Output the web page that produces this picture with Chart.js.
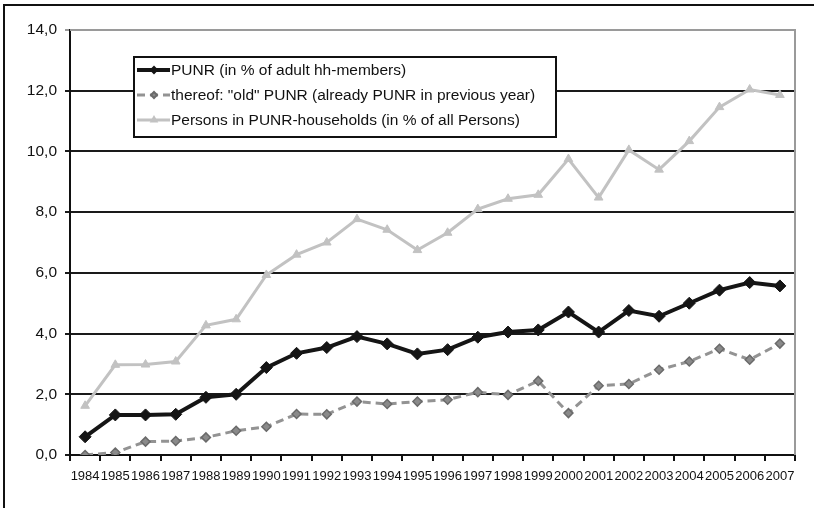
<!DOCTYPE html>
<html>
<head>
<meta charset="utf-8">
<script src="https://cdn.jsdelivr.net/npm/chart.js@4/dist/chart.umd.min.js"></script>
<style>
  html, body { margin: 0; padding: 0; background: #fff; }
  #wrap { width: 814px; height: 508px; position: relative; }
</style>
</head>
<body>
<div id="wrap"><canvas id="chart" width="814" height="508"></canvas></div>
<script>
// data
const years = ['1984','1985','1986','1987','1988','1989','1990','1991','1992','1993','1994','1995',
  '1996','1997','1998','1999','2000','2001','2002','2003','2004','2005','2006','2007'];
const punr = [0.6, 1.32, 1.32, 1.34, 1.9, 2.0, 2.88, 3.35, 3.54, 3.9, 3.66, 3.33,
  3.47, 3.88, 4.05, 4.12, 4.71, 4.05, 4.76, 4.57, 5.0, 5.43, 5.68, 5.57];
const oldPunr = [0.0, 0.08, 0.44, 0.46, 0.58, 0.8, 0.93, 1.35, 1.34, 1.76, 1.68, 1.76,
  1.82, 2.07, 1.98, 2.44, 1.38, 2.28, 2.34, 2.81, 3.08, 3.5, 3.14, 3.67];
const persons = [1.62, 2.97, 2.98, 3.08, 4.27, 4.47, 5.93, 6.6, 7.0, 7.77, 7.42, 6.75,
  7.32, 8.1, 8.44, 8.57, 9.75, 8.48, 10.05, 9.4, 10.34, 11.46, 12.04, 11.86];
const seriesNames = [
  'PUNR (in % of adult hh-members)',
  'thereof: "old" PUNR (already PUNR in previous year)',
  'Persons in PUNR-households (in % of all Persons)'
];

const FONT = 'Arial, "Liberation Sans", sans-serif';

// frame, plot border and the boxed legend inside the plot
const framePlugin = {
  id: 'framePlugin',
  beforeDraw(chart) {
    const c = chart.ctx;
    c.save();
    c.fillStyle = '#fff';
    c.fillRect(0, 0, chart.width, chart.height);
    c.restore();
  },
  afterDraw(chart) {
    const c = chart.ctx;
    const a = chart.chartArea;
    c.save();
    // outer frame (only top and left visible)
    c.strokeStyle = '#111';
    c.lineWidth = 2;
    c.beginPath();
    c.moveTo(4, chart.height + 2);
    c.lineTo(4, 5);
    c.lineTo(chart.width + 2, 5);
    c.stroke();
    // grey plot border top/right
    c.strokeStyle = '#9a9a9a';
    c.lineWidth = 2;
    c.beginPath();
    c.moveTo(a.left, a.top);
    c.lineTo(a.right, a.top);
    c.lineTo(a.right, a.bottom);
    c.stroke();

    // legend box
    const bx = 134, by = 57, bw = 422, bh = 80;
    c.fillStyle = '#fff';
    c.fillRect(bx, by, bw, bh);
    c.strokeStyle = '#111';
    c.lineWidth = 2;
    c.strokeRect(bx, by, bw, bh);
    chart.data.datasets.forEach((ds, i) => {
      const y = 70 + i * 25;
      c.save();
      c.strokeStyle = ds.borderColor;
      c.lineWidth = ds.borderWidth;
      c.setLineDash(ds.borderDash || []);
      c.beginPath();
      c.moveTo(137, y);
      c.lineTo(170, y);
      c.stroke();
      c.restore();
      c.save();
      c.fillStyle = ds.pointBackgroundColor;
      c.strokeStyle = ds.pointBorderColor;
      Chart.helpers.drawPoint(c, {
        pointStyle: ds.pointStyle, radius: 3, rotation: 0, borderWidth: 1
      }, 154, y);
      c.restore();
      c.fillStyle = '#111';
      c.font = '15.5px ' + FONT;
      c.textBaseline = 'middle';
      c.textAlign = 'left';
      c.fillText(ds.label, 171, y + 1);
    });
    c.restore();
  }
};

new Chart(document.getElementById('chart'), {
  type: 'line',
  data: {
    labels: years,
    datasets: [
      {
        label: seriesNames[0],
        data: punr,
        borderColor: '#151515',
        borderWidth: 4,
        pointStyle: 'rectRot',
        pointRadius: 6,
        pointBackgroundColor: '#151515',
        pointBorderColor: '#151515',
        pointBorderWidth: 1
      },
      {
        label: seriesNames[1],
        data: oldPunr,
        borderColor: '#939393',
        borderWidth: 3,
        borderDash: [8, 5],
        pointStyle: 'rectRot',
        pointRadius: 4.5,
        pointBackgroundColor: '#8a8a8a',
        pointBorderColor: '#6a6a6a',
        pointBorderWidth: 1.5
      },
      {
        label: seriesNames[2],
        data: persons,
        borderColor: '#c2c2c2',
        borderWidth: 3,
        pointStyle: 'triangle',
        pointRadius: 5,
        pointBackgroundColor: '#c2c2c2',
        pointBorderColor: '#c2c2c2',
        pointBorderWidth: 1
      }
    ]
  },
  options: {
    responsive: false,
    animation: false,
    devicePixelRatio: 1,
    layout: { padding: { top: 30, right: 19, left: 0, bottom: 0 } },
    plugins: {
      legend: { display: false },
      tooltip: { enabled: false }
    },
    scales: {
      x: {
        offset: true,
        afterFit(scale) { scale.height = 53; },
        border: { color: '#111', width: 2 },
        grid: {
          offset: true,
          drawOnChartArea: false,
          drawTicks: true,
          tickLength: 6,
          color: '#111',
          lineWidth: 2
        },
        ticks: {
          autoSkip: false,
          maxRotation: 0,
          padding: 8,
          color: '#111',
          font: { family: FONT, size: 13 }
        }
      },
      y: {
        min: 0,
        max: 14,
        afterFit(scale) { scale.width = 70; },
        border: { color: '#111', width: 2 },
        grid: {
          color: (ctx) => ctx.tick && ctx.tick.value === 14 ? '#9a9a9a' : '#1a1a1a',
          lineWidth: 2,
          tickLength: 5
        },
        ticks: {
          stepSize: 2,
          padding: 8,
          color: '#111',
          font: { family: FONT, size: 15.5 },
          callback: (v) => v.toFixed(1).replace('.', ',')
        }
      }
    }
  },
  plugins: [framePlugin]
});
</script>
</body>
</html>
